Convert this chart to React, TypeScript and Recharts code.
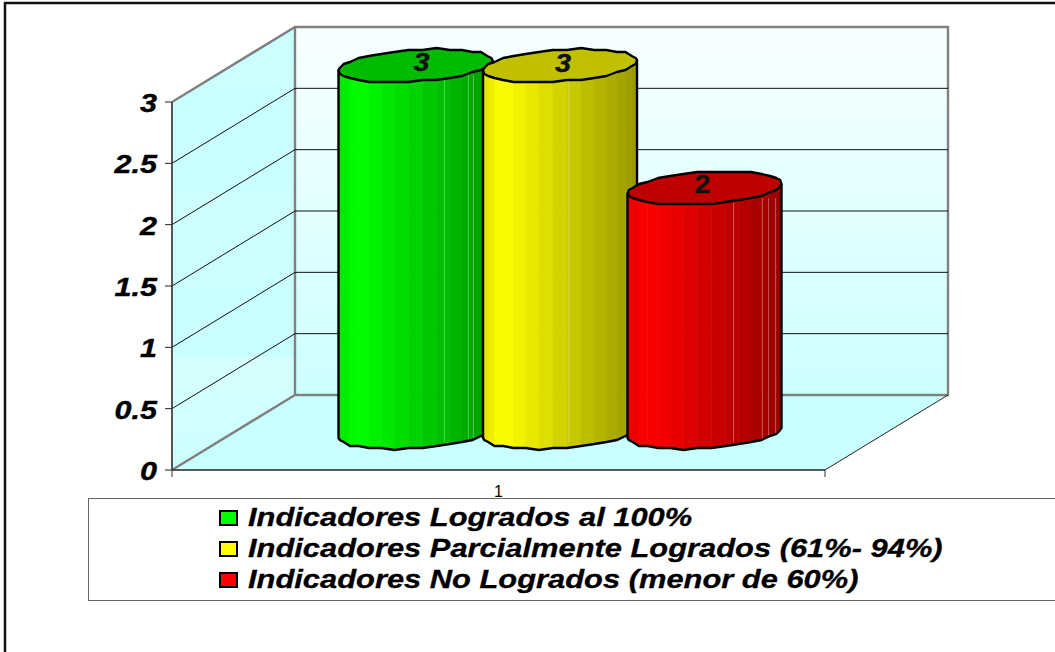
import { Bar, BarChart, CartesianGrid, LabelList, Legend, XAxis, YAxis } from "recharts";

const categories = ["1"];
const logrados = [3];
const parciales = [3];
const noLogrados = [2];
const yTicks = [0, 0.5, 1, 1.5, 2, 2.5, 3];

const seriesNames = [
  "Indicadores Logrados al 100%",
  "Indicadores Parcialmente Logrados (61%- 94%)",
  "Indicadores No Logrados (menor de 60%)",
];

const chartData = categories.map((name, i) => ({
  name,
  logrados: logrados[i],
  parciales: parciales[i],
  noLogrados: noLogrados[i],
}));

const FONT = '"Liberation Sans", Arial, sans-serif';

// plot box of the front face, and how far the walls sit behind it
const left = 172;
const top = 102;
const plotW = 653;
const plotH = 368;
const depthX = 123;
const depthY = -75;
const right = left + plotW;
const bottom = top + plotH;

// Excel draws the cylinders in the middle of the depth
const midX = depthX / 2;
const midY = depthY / 2;

function Walls() {
  const backL = left + depthX;
  const backR = right + depthX;
  const backT = top + depthY;
  const backB = bottom + depthY;
  return (
    <g>
      <defs>
        <linearGradient id="backWall" x1="0" y1="0" x2="0" y2="1">
          <stop offset="0%" stopColor="#f8ffff" />
          <stop offset="100%" stopColor="#ccffff" />
        </linearGradient>
        <linearGradient id="sideWall" x1="0" y1="0" x2="0" y2="1">
          <stop offset="0%" stopColor="#ccffff" />
          <stop offset="36.9%" stopColor="#c8ffff" />
          <stop offset="37%" stopColor="#ceffff" />
          <stop offset="74.4%" stopColor="#c8ffff" />
          <stop offset="74.5%" stopColor="#d6ffff" />
          <stop offset="100%" stopColor="#ccffff" />
        </linearGradient>
      </defs>
      {/* outer frame of the picture */}
      <path d="M5 652 V3 H1055" fill="none" stroke="#111" strokeWidth={2.5} />
      <polygon points={`${backL},${backT} ${backR},${backT} ${backR},${backB} ${backL},${backB}`} fill="url(#backWall)" />
      <polygon points={`${left},${top} ${backL},${backT} ${backL},${backB} ${left},${bottom}`} fill="url(#sideWall)" />
      <polygon points={`${left},${bottom} ${backL},${backB} ${backR},${backB} ${right},${bottom}`} fill="#c8ffff" />
      <path
        d={`M${left} ${top} L${backL} ${backT} H${backR} V${backB} H${backL} V${backT} M${backL} ${backB} L${left} ${bottom}`}
        fill="none"
        stroke="#808080"
        strokeWidth={2.4}
      />
      <path d={`M${right} ${bottom} L${backR} ${backB}`} stroke="#222" strokeWidth={1} />
      <path d={`M${left} ${bottom} V${bottom + 7} M${right} ${bottom} V${bottom + 7}`} stroke="#777" strokeWidth={1.5} />
    </g>
  );
}

function gridLine(p: any) {
  const y = p.y1;
  if (Math.abs(y - top) < 1 || Math.abs(y - bottom) < 1) return <g key={p.key} />;
  return (
    <path
      key={p.key}
      d={`M${p.x1} ${y} L${p.x1 + depthX} ${y + depthY} H${p.x2 + depthX}`}
      fill="none"
      stroke="#111"
      strokeWidth={1}
    />
  );
}

function YTick({ x, y, payload }: any) {
  return (
    <text
      transform={`translate(${x},${y + 10}) scale(1.22,1)`}
      textAnchor="end"
      fontFamily={FONT}
      fontSize={25}
      fontWeight="bold"
      fontStyle="italic"
      fill="#000"
      stroke="#000"
      strokeWidth={0.4}
    >
      {payload.value}
    </text>
  );
}

const FACETS = 34;
const RAD_B = 15.8;
const TILT = 5;

function Cylinder({ x, y, width, height, base, cap, hairs }: any) {
  const cx = x + width / 2 + midX;
  const a = width / 2;
  const yTop = y + midY + 1;
  const yBot = y + height + midY;
  const pt = (t: number, cy: number) => [
    cx + a * Math.cos(t),
    Math.round((cy + RAD_B * Math.sin(t) - TILT * Math.cos(t)) / 2) * 2,
  ];
  const front: number[] = [];
  for (let i = 0; i <= FACETS / 2; i++) front.push(Math.PI - (i * 2 * Math.PI) / FACETS);

  const strips = front.slice(0, -1).map((t, i) => {
    const t2 = front[i + 1];
    const frac = (Math.cos(t) + Math.cos(t2) + 2) / 4;
    const k = frac < 0.12 ? 0.88 + frac : 1 - ((frac - 0.12) / 0.88) * 0.4;
    const fill = `rgb(${base.map((c: number) => Math.round(c * k)).join(",")})`;
    const pts = [pt(t, yTop), pt(t2, yTop), pt(t2, yBot), pt(t, yBot)].map((q) => q.join(",")).join(" ");
    return <polygon key={i} points={pts} fill={fill} stroke={fill} strokeWidth={0.6} />;
  });

  const lower = front.map((t) => pt(t, yBot).join(" ")).join(" L");
  const capPts: string[] = [];
  for (let i = 0; i < FACETS; i++) capPts.push(pt((i * 2 * Math.PI) / FACETS, yTop).join(","));
  const lt = pt(Math.PI, yTop);
  const rt = pt(0, yTop);

  return (
    <g>
      {strips}
      {hairs.map((h: number) => (
        <path key={h} d={`M${cx + h} ${yTop + 10} V${yBot + 10}`} stroke="rgba(255,255,255,0.32)" strokeWidth={1} />
      ))}
      <path d={`M${lt[0]} ${lt[1]} L${lower} L${rt[0]} ${rt[1]}`} fill="none" stroke="#000" strokeWidth={2.4} />
      <polygon points={capPts.join(" ")} fill={cap} stroke="#000" strokeWidth={2.4} strokeLinejoin="round" />
    </g>
  );
}

function valueLabel(shiftX: number, shiftY: number, italic: boolean) {
  return ({ x, y, width, value }: any) => (
    <text
      transform={`translate(${x + width / 2 + midX + shiftX},${y + midY + shiftY}) scale(1.15,1)`}
      textAnchor="middle"
      fontFamily={FONT}
      fontSize={25}
      fontWeight="bold"
      fontStyle={italic ? "italic" : "normal"}
      fill="#111"
      stroke="#111"
      strokeWidth={0.4}
    >
      {value}
    </text>
  );
}

function LegendBox({ payload }: any) {
  return (
    <div
      style={{
        boxSizing: "border-box",
        width: 990,
        height: 103,
        border: "1.5px solid #666",
        background: "#fff",
        paddingTop: 3,
        paddingLeft: 130,
      }}
    >
      {(payload ?? []).map((entry: any) => (
        <div key={entry.value} style={{ display: "flex", alignItems: "center", height: 31 }}>
          <span
            style={{
              boxSizing: "border-box",
              width: 19,
              height: 16,
              border: "2px solid #000",
              background: entry.color,
              marginRight: 10,
            }}
          />
          <span
            style={{
              fontFamily: FONT,
              fontSize: 26,
              fontWeight: "bold",
              fontStyle: "italic",
              color: "#000",
              whiteSpace: "pre",
              transformOrigin: "left center",
              transform: "scaleX(1.187)",
              WebkitTextStroke: "0.3px #000",
            }}
          >
            {entry.value}
          </span>
        </div>
      ))}
    </div>
  );
}

export default function App() {
  return (
    <div style={{ position: "absolute", left: 0, top: 0, width: 1055, height: 652, overflow: "hidden", background: "#fff" }}>
      <BarChart
        width={1055}
        height={652}
        data={chartData}
        margin={{ left: left - 60, top, right: 1055 - right, bottom: 652 - bottom - 40 }}
        barSize={154}
        barGap={-9.5}
        barCategoryGap={0}
      >
        <Walls />
        <CartesianGrid vertical={false} horizontal={gridLine} zIndex={100} />
        <XAxis
          dataKey="name"
          height={40}
          axisLine={{ stroke: "#222", strokeWidth: 1.5 }}
          tickLine={false}
          tickMargin={10}
          tick={{ fontSize: 16, fontFamily: FONT, fill: "#000" }}
        />
        <YAxis
          width={60}
          domain={[0, 3]}
          ticks={yTicks}
          interval={0}
          tickSize={7}
          tickMargin={8}
          axisLine={{ stroke: "#555", strokeWidth: 2 }}
          tickLine={{ stroke: "#222" }}
          tick={<YTick />}
        />
        <Bar
          dataKey="logrados"
          name={seriesNames[0]}
          fill="#00ff00"
          isAnimationActive={false}
          shape={(p: any) => <Cylinder {...p} base={[0, 255, 0]} cap="#00bb00" hairs={[29, 53, 58]} />}
        >
          <LabelList dataKey="logrados" content={valueLabel(6, 6, true)} />
        </Bar>
        <Bar
          dataKey="parciales"
          name={seriesNames[1]}
          fill="#ffff00"
          isAnimationActive={false}
          shape={(p: any) => <Cylinder {...p} base={[255, 255, 0]} cap="#c0c000" hairs={[9]} />}
        >
          <LabelList dataKey="parciales" content={valueLabel(3, 7, true)} />
        </Bar>
        <Bar
          dataKey="noLogrados"
          name={seriesNames[2]}
          fill="#ff0000"
          isAnimationActive={false}
          shape={(p: any) => <Cylinder {...p} base={[255, 0, 0]} cap="#c00000" hairs={[29, 58, 64, 71]} />}
        >
          <LabelList dataKey="noLogrados" content={valueLabel(-2, 6, false)} />
        </Bar>
        <Legend
          layout="horizontal"
          align="center"
          verticalAlign="middle"
          itemSorter={null}
          wrapperStyle={{ left: 88, top: 498, width: 990, height: 103 }}
          content={<LegendBox />}
        />
      </BarChart>
    </div>
  );
}
